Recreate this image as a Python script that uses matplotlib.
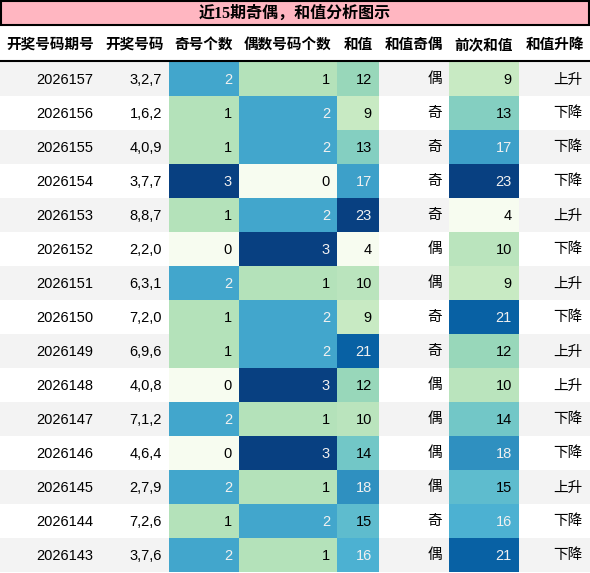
import numpy as np
import matplotlib.pyplot as plt
from matplotlib.patches import Rectangle
from matplotlib import colors as mcolors

plt.rcParams['font.family'] = ['Liberation Sans', 'Noto Sans CJK SC', 'DejaVu Sans']

# table data
title = "近15期奇偶，和值分析图示"
headers = ["开奖号码期号", "开奖号码", "奇号个数", "偶数号码个数", "和值", "和值奇偶", "前次和值", "和值升降"]
periods = ["2026157", "2026156", "2026155", "2026154", "2026153", "2026152", "2026151", "2026150",
           "2026149", "2026148", "2026147", "2026146", "2026145", "2026144", "2026143"]
numbers = ["3,2,7", "1,6,2", "4,0,9", "3,7,7", "8,8,7", "2,2,0", "6,3,1", "7,2,0",
           "6,9,6", "4,0,8", "7,1,2", "4,6,4", "2,7,9", "7,2,6", "3,7,6"]
odd_count = [2, 1, 1, 3, 1, 0, 2, 1, 1, 0, 2, 0, 2, 1, 2]
even_count = [1, 2, 2, 0, 2, 3, 1, 2, 2, 3, 1, 3, 1, 2, 1]
sum_val = [12, 9, 13, 17, 23, 4, 10, 9, 21, 12, 10, 14, 18, 15, 16]
sum_parity = ["偶", "奇", "奇", "奇", "奇", "偶", "偶", "奇", "奇", "偶", "偶", "偶", "偶", "奇", "偶"]
prev_sum = [9, 13, 17, 23, 4, 10, 9, 21, 12, 10, 14, 18, 15, 16, 21]
trend = ["上升", "下降", "下降", "下降", "上升", "下降", "上升", "下降",
         "上升", "上升", "下降", "下降", "上升", "下降", "下降"]

columns = [periods, numbers, odd_count, even_count, sum_val, sum_parity, prev_sum, trend]
gradient_cols = {2, 3, 4, 6}

# layout in pixels
W, H = 590, 573
col_edges = [0, 100, 169, 239, 337, 379, 449, 519, 590]
title_h = 25
header_bottom = 61
row_h = 34
pad = 7

fig = plt.figure(figsize=(W / 100, H / 100), dpi=100)
ax = fig.add_axes([0, 0, 1, 1])
ax.set_xlim(0, W)
ax.set_ylim(H, 0)
ax.axis('off')

cmap = plt.get_cmap('GnBu')


def text_color(rgba):
    def lin(x):
        return x / 12.92 if x <= 0.04045 else ((x + 0.055) / 1.055) ** 2.4
    r, g, b = [lin(c) for c in rgba[:3]]
    lum = 0.2126 * r + 0.7152 * g + 0.0722 * b
    return "#f1f1f1" if lum < 0.408 else "#000000"


# title bar
ax.add_patch(Rectangle((0.75, 0.75), W - 1.5, title_h - 0.75, facecolor='#ffb6c1',
                       edgecolor='black', linewidth=1.5))
ax.text(W / 2, title_h / 2 + 1, title, ha='center', va='center', fontsize=11.5,
        fontweight='bold', family=['Liberation Serif', 'Noto Sans CJK SC'])

# header
for j, h in enumerate(headers):
    cx = (col_edges[j] + col_edges[j + 1]) / 2
    ax.text(cx, (title_h + header_bottom) / 2 + 1, h, ha='center', va='center',
            fontsize=10.5, fontweight='bold', family=['Noto Sans CJK SC'])
ax.plot([0, W], [header_bottom, header_bottom], color='black', linewidth=1.5)

# rows
n = len(periods)
for i in range(n):
    y0 = header_bottom + 1 + i * row_h
    bg = '#f3f3f3' if i % 2 == 0 else '#ffffff'
    for j, col in enumerate(columns):
        x0, x1 = col_edges[j], col_edges[j + 1]
        fc = bg
        tc = 'black'
        if j in gradient_cols:
            vals = np.array(col, dtype=float)
            norm = mcolors.Normalize(vals.min(), vals.max())
            rgba = cmap(norm(col[i]))
            fc = rgba
            tc = text_color(rgba)
        ax.add_patch(Rectangle((x0, y0), x1 - x0, row_h, facecolor=fc, edgecolor='none'))
        ax.text(x1 - pad, y0 + row_h / 2 + 0.5, str(col[i]), ha='right', va='center',
                fontsize=10.5, color=tc)

fig.savefig('out.png', dpi=100)
